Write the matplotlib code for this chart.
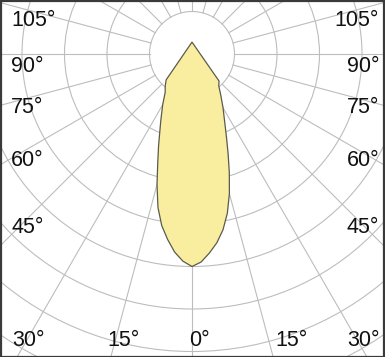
"""
Diagrama polar de distribución luminosa (curva fotométrica).
"""
import numpy as np
import matplotlib.pyplot as plt
from matplotlib.patches import Circle, Rectangle

# Ángulos de la curva (grados desde la vertical hacia abajo)
angulos = [0, 2.5, 5, 7.5, 10, 12.5, 15, 17.5, 20, 22.5, 25, 30, 35, 40, 45, 180]
# Intensidad lado derecho / izquierdo (unidades de la rejilla, 50 por anillo)
intensidad_der = [250, 245, 235, 224, 210, 192, 170, 146, 124, 106, 92, 73, 59, 49, 45, 14]
intensidad_izq = [250, 244, 234, 220, 205, 185, 159, 134, 115, 99, 87, 69, 55, 49, 43, 14]

# Rejilla
anillos = [50, 100, 150, 200, 250, 300, 350, 400, 450]
radiales = list(range(0, 360, 15))

# Etiquetas
etiquetas_lado = ['105°', '90°', '75°', '60°', '45°']
etiquetas_abajo = ['30°', '15°', '0°', '15°', '30°']

ANCHO, ALTO = 385, 357
ESCALA = 0.85          # píxeles por unidad
CX, CY = 192, 54       # centro del diagrama en píxeles (desde arriba a la izquierda)

fig = plt.figure(figsize=(ANCHO / 100, ALTO / 100), dpi=100)
fig.patch.set_facecolor('white')
ax = fig.add_axes([0, 0, 1, 1])
ax.set_xlim(-CX / ESCALA, (ANCHO - CX) / ESCALA)
ax.set_ylim(-(ALTO - CY) / ESCALA, CY / ESCALA)
ax.axis('off')

color_rejilla = '#bdbdbd'

# 1. Anillos concéntricos
for r in anillos:
    ax.add_patch(Circle((0, 0), r, fill=False, edgecolor=color_rejilla,
                        linewidth=0.8, zorder=1))

# 2. Líneas radiales (empiezan en el primer anillo)
r_ini, r_fin = anillos[0], 600
for a in radiales:
    t = np.radians(a)
    ax.plot([r_ini * np.sin(t), r_fin * np.sin(t)],
            [-r_ini * np.cos(t), -r_fin * np.cos(t)],
            color=color_rejilla, linewidth=0.8, zorder=1)

# 3. Curva fotométrica
ang = np.array(angulos, dtype=float)
theta = np.concatenate([-ang[::-1], ang[1:]])
r = np.concatenate([np.array(intensidad_izq)[::-1], np.array(intensidad_der)[1:]])
t = np.radians(theta)
x = r * np.sin(t)
y = -r * np.cos(t)
ax.fill(x, y, facecolor='#f9ee9f', edgecolor='#5b5a4c', linewidth=0.9,
        joinstyle='round', zorder=3)

# 4. Etiquetas de ángulos
fuente = dict(family=['Liberation Sans Narrow', 'Liberation Sans', 'DejaVu Sans'],
              fontsize=15.5, color='#111111')
y_lado = [20, 66, 107, 160, 228]
for txt, yp in zip(etiquetas_lado, y_lado):
    fig.text(11 / ANCHO, 1 - yp / ALTO, txt, ha='left', va='center', **fuente)
    fig.text(379 / ANCHO, 1 - yp / ALTO, txt, ha='right', va='center', **fuente)

x_abajo = [12, 107, 189, 275, 347]
for txt, xp in zip(etiquetas_abajo, x_abajo):
    fig.text(xp / ANCHO, 1 - 340 / ALTO, txt, ha='left', va='center', **fuente)

# 5. Marco
fig.patches.append(Rectangle((0.5 / ANCHO, 0.5 / ALTO), 1 - 1.5 / ANCHO, 1 - 1.5 / ALTO,
                             transform=fig.transFigure, fill=False,
                             edgecolor='#3a3a3a', linewidth=1.6, zorder=10))

fig.savefig('out.png', dpi=100)
